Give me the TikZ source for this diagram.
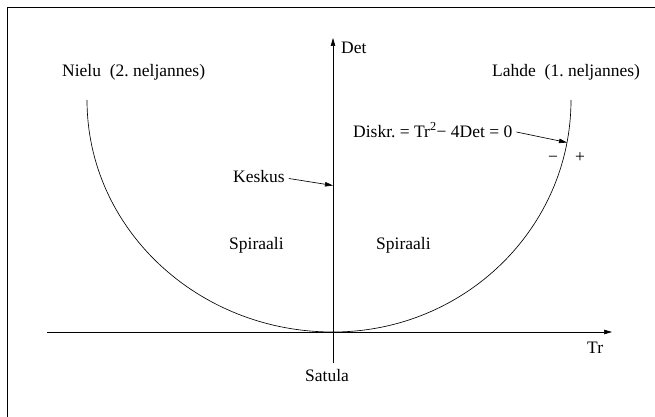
\documentclass[tikz,border=0pt]{standalone}
\usepackage{fontspec}
\setmainfont{Liberation Serif}
\usetikzlibrary{arrows.meta}
\begin{document}
\frenchspacing
\begin{tikzpicture}[x=1pt,y=-1pt,
  lbl/.style={inner sep=0pt, anchor=base west, font=\fontsize{17.5}{20}\selectfont},
  ln/.style={line width=0.65pt},
  arr/.style={ln, -{Triangle[length=8pt,width=4.5pt]}}]
\useasboundingbox (0,0) rectangle (655,417);
% frame (left and top edges)
\draw[line width=0.9pt] (7,417) -- (7,7) -- (655,7);
% axes
\coordinate (xl) at (47,332);
\coordinate (xr) at (612,332);
\coordinate (yb) at (333,363);
\coordinate (yt) at (333,38);
\draw[arr] (xl) -- (xr);
\draw[arr] (yb) -- (yt);
% discriminant curve
\draw[ln] (87,100) arc[start angle=180, end angle=270, x radius=246pt, y radius=232pt]
               arc[start angle=270, end angle=360, x radius=238pt, y radius=232pt];
% labels
\node[lbl] (det) at (341,54) {Det};
\node[lbl] (tr) at (587,353) {Tr};
\node[lbl] (satula) at (305,381) {Satula};
\node[lbl] (nielu) at (62,77) {Nielu~~(2.~neljannes)};
\node[lbl] (lahde) at (492,77) {Lahde~~(1.~neljannes)};
\node[lbl] (diskr) at (353,137) {Diskr. = Tr\textsuperscript{2}− 4Det = 0};
\node[lbl] (minus) at (548,162) {−};
\node[lbl] (plus) at (575,162) {+};
\node[lbl] (keskus) at (233,182) {Keskus};
\node[lbl] (spl) at (229,249) {Spiraali};
\node[lbl] (spr) at (376,249) {Spiraali};
% pointers
\coordinate (kp) at (333,185.5);
\coordinate (dp) at (567,142.5);
\draw[arr] ([xshift=4pt,yshift=3.5pt]keskus.base east) -- (kp);
\draw[arr] ([xshift=4pt,yshift=5pt]diskr.base east) -- (dp);
\end{tikzpicture}
\end{document}
